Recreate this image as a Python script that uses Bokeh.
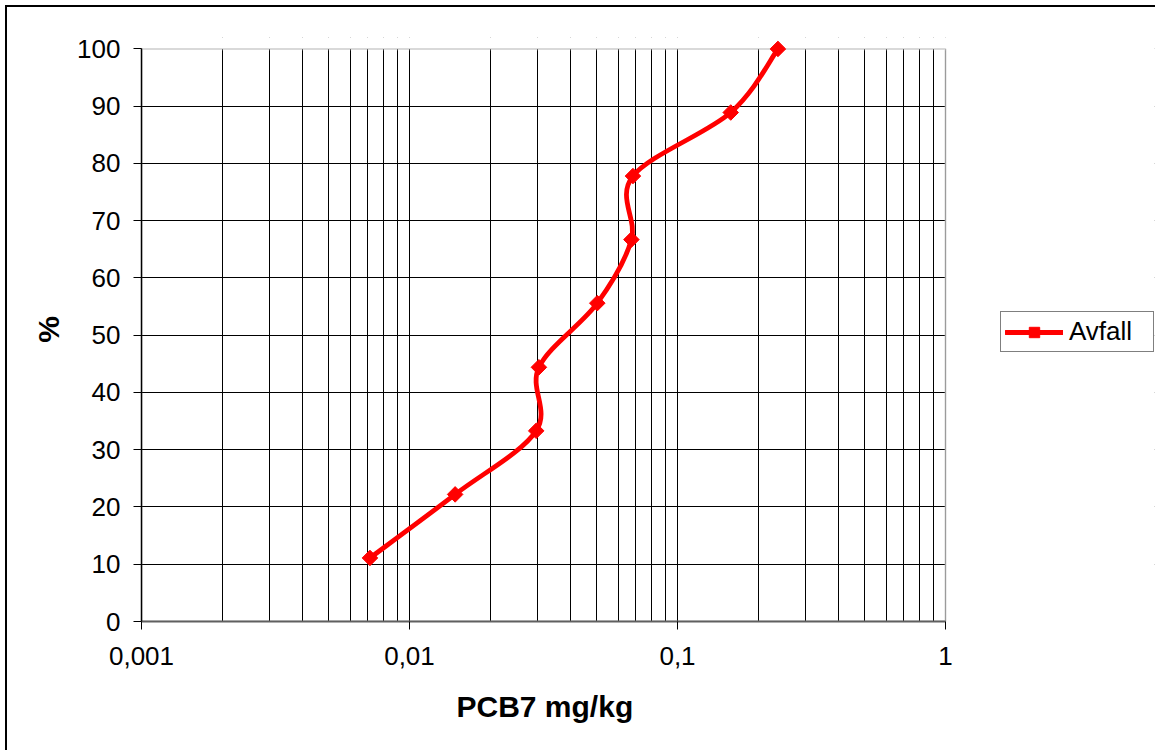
import numpy as np
from bokeh.plotting import figure
from bokeh.models import (Range1d, FixedTicker, CustomJSTickFormatter, Legend, LegendItem,
                          BoxAnnotation, Title)
from bokeh.embed import file_html
from bokeh.resources import INLINE

# ---- data ----
x_values = [0.00712, 0.0148, 0.0297, 0.0304, 0.0502, 0.0673, 0.0682, 0.158, 0.237]
y_values = [11.1, 22.2, 33.3, 44.4, 55.6, 66.7, 77.8, 88.9, 100.0]
series_name = "Avfall"
x_tick_values = [0.001, 0.01, 0.1, 1.0]
x_tick_labels = ["0,001", "0,01", "0,1", "1"]
x_minor_mantissas = [2, 3, 4, 5, 6, 7, 8, 9]
y_tick_values = [0, 10, 20, 30, 40, 50, 60, 70, 80, 90, 100]
x_title = "PCB7 mg/kg"
y_title = "%"

FONT = "Liberation Sans"

# smoothed (Excel-like) curve: cubic Bezier segments in log-x / linear-y space
lx = np.log10(np.array(x_values))
ly = np.array(y_values, dtype=float)
n = len(lx)
seg = {k: [] for k in ("x0", "y0", "x1", "y1", "cx0", "cy0", "cx1", "cy1")}
for i in range(n - 1):
    ip, inx = max(i - 1, 0), min(i + 2, n - 1)
    c1x = lx[i] + (lx[i + 1] - lx[ip]) / 6.0
    c1y = ly[i] + (ly[i + 1] - ly[ip]) / 6.0
    c2x = lx[i + 1] - (lx[inx] - lx[i]) / 6.0
    c2y = ly[i + 1] - (ly[inx] - ly[i]) / 6.0
    seg["x0"].append(10 ** lx[i]); seg["y0"].append(ly[i])
    seg["x1"].append(10 ** lx[i + 1]); seg["y1"].append(ly[i + 1])
    seg["cx0"].append(10 ** c1x); seg["cy0"].append(c1y)
    seg["cx1"].append(10 ** c2x); seg["cy1"].append(c2y)

x_minor = [m * d for d in x_tick_values[:-1] for m in x_minor_mantissas]

# layout: plot area 804 px for the 3 decades; frame extended to the right to host the legend
W, H = 1150, 745
left, top, fh = 134, 30, 584
axis_px = 804
fw = 1013
n_dec = np.log10(x_tick_values[-1] / x_tick_values[0])
x_end = x_tick_values[-1] * 10 ** (n_dec * (fw - axis_px) / axis_px)

p = figure(width=W, height=H, x_axis_type="log",
           x_range=Range1d(x_tick_values[0], x_end),
           y_range=Range1d(0, 102),
           output_backend="svg", toolbar_location=None,
           min_border_left=left, min_border_right=W - left - fw,
           min_border_top=top, min_border_bottom=H - top - fh,
           background_fill_color="white", border_fill_color="white")
p.outline_line_color = None
p.styles = {"margin-left": "5px", "margin-top": "5px",
            "border-left": "2px solid black", "border-top": "2px solid black"}

# axes
p.xaxis.ticker = FixedTicker(ticks=x_tick_values, minor_ticks=x_minor)
p.xaxis.formatter = CustomJSTickFormatter(
    args=dict(vals=x_tick_values, labs=x_tick_labels),
    code="""
    for (let i = 0; i < vals.length; i++) {
        if (Math.abs(vals[i] - tick) <= 1e-9 * Math.abs(vals[i])) return labs[i];
    }
    return tick.toString().replace('.', ',');
    """)
p.xaxis.bounds = (x_tick_values[0], x_tick_values[-1])
p.yaxis.ticker = FixedTicker(ticks=y_tick_values)
p.yaxis.bounds = (y_tick_values[0], y_tick_values[-1])

for ax in (p.xaxis[0], p.yaxis[0]):
    ax.major_tick_out = 8
    ax.major_tick_in = 0
    ax.minor_tick_line_color = None
    ax.major_tick_line_color = "black"
    ax.major_label_text_font = FONT
    ax.major_label_text_font_size = "26px"
    ax.major_label_text_color = "black"
    ax.axis_label_text_font = FONT
    ax.axis_label_text_font_style = "bold"
    ax.axis_label_text_color = "black"

p.xaxis.axis_line_color = "#606060"
p.xaxis.axis_line_width = 2
p.yaxis.axis_line_color = "black"
p.yaxis.axis_line_width = 1.5
p.xaxis.major_label_standoff = 17
p.yaxis.major_label_standoff = 13
p.yaxis.axis_label = y_title
p.yaxis.axis_label_text_font_size = "30px"
p.yaxis.axis_label_standoff = 9
# blank spacer label on the x axis: pushes the title (below) down a little
p.xaxis.axis_label = " "
p.xaxis.axis_label_text_font_size = "10px"
p.xaxis.axis_label_standoff = 1

# x-axis title, centred under the plot area (not under the extended frame)
title_w_est = 174
x_title_model = Title(text=x_title, align="left", offset=(axis_px - title_w_est) / 2,
                      text_font=FONT, text_font_size="30px", text_font_style="bold",
                      text_color="black", standoff=10)
p.add_layout(x_title_model, "below")

# grids
p.xgrid.grid_line_color = "black"
p.xgrid.grid_line_alpha = 1
p.xgrid.minor_grid_line_color = "black"
p.xgrid.minor_grid_line_alpha = 1
p.ygrid.grid_line_color = "black"
p.ygrid.grid_line_alpha = 1

# blank the frame outside the plot area, then draw the grey plot-area border
blank_right = BoxAnnotation(left=x_tick_values[-1], fill_color="white", fill_alpha=1,
                            line_color="white", line_width=2, level="underlay")
blank_top = BoxAnnotation(bottom=y_tick_values[-1], fill_color="white", fill_alpha=1,
                          line_color="white", line_width=3, level="underlay")
plot_area = BoxAnnotation(left=x_tick_values[0], right=x_tick_values[-1],
                          bottom=y_tick_values[0], top=y_tick_values[-1],
                          fill_alpha=0, line_color="#808080", line_width=2, level="underlay")
for b in (blank_right, blank_top, plot_area):
    p.add_layout(b)

# series
bez = p.bezier(x0=seg["x0"], y0=seg["y0"], x1=seg["x1"], y1=seg["y1"],
               cx0=seg["cx0"], cy0=seg["cy0"], cx1=seg["cx1"], cy1=seg["cy1"],
               line_color="red", line_width=4.8, line_cap="round")
sc = p.scatter(x_values, y_values, marker="square", size=11, angle=np.pi / 4,
               fill_color="red", line_color="red")

legend = Legend(items=[LegendItem(label=series_name, renderers=[bez, sc])],
                location=(859, 269), orientation="vertical",
                label_text_font=FONT, label_text_font_size="26px", label_text_color="black",
                glyph_width=58, glyph_height=26, label_height=26, label_width=80,
                label_standoff=6, padding=4, spacing=0, margin=0,
                border_line_color="black", border_line_width=1,
                background_fill_color="white", background_fill_alpha=1)
p.add_layout(legend)

open("out.html", "w").write(file_html(p, INLINE))
